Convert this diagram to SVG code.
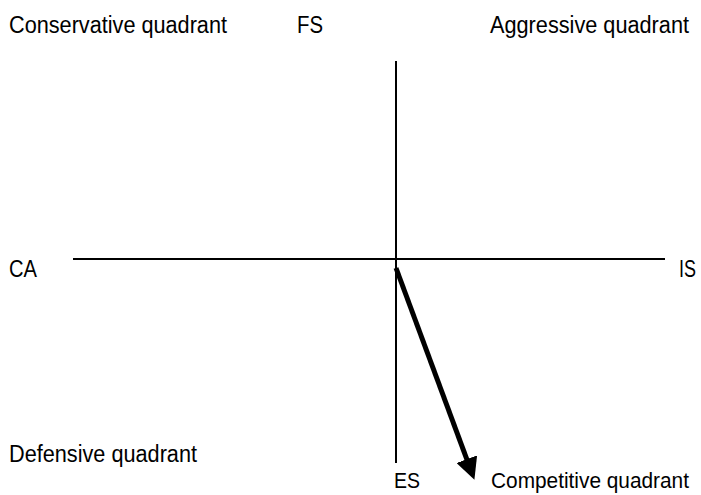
<svg xmlns="http://www.w3.org/2000/svg" width="701" height="495" viewBox="0 0 701 495">
<defs>
<style>
.lbl{font-family:"Liberation Sans",Arial,sans-serif;font-size:23px;fill:#000}
.sm{font-size:22px}
.axis{stroke:#000;stroke-width:2;fill:none}
.vec{stroke:#000;stroke-width:5;fill:none}
</style>
<marker id="head" markerUnits="userSpaceOnUse" markerWidth="22" markerHeight="22" refX="2" refY="10.5" orient="auto" viewBox="0 0 21 21">
<path d="M0,0 L21,10.5 L0,21 z" fill="#000"/>
</marker>
</defs>
<rect width="701" height="495" fill="#fff"/>
<g id="connectors">
<line class="axis" x1="396" y1="61" x2="396" y2="463"/>
<line class="axis" x1="73" y1="259" x2="665" y2="259"/>
<line class="vec" x1="396" y1="268" x2="467.5" y2="461.2" marker-end="url(#head)"/>
</g>
<g id="conservative"><text class="lbl" x="9" y="33" textLength="218" lengthAdjust="spacingAndGlyphs">Conservative quadrant</text></g>
<g id="fs"><text class="lbl" x="297" y="33" textLength="26" lengthAdjust="spacingAndGlyphs">FS</text></g>
<g id="aggressive"><text class="lbl" x="490" y="33" textLength="199" lengthAdjust="spacingAndGlyphs">Aggressive quadrant</text></g>
<g id="ca"><text class="lbl" x="9" y="277" textLength="28" lengthAdjust="spacingAndGlyphs">CA</text></g>
<g id="is"><text class="lbl" x="679" y="277" textLength="17" lengthAdjust="spacingAndGlyphs">IS</text></g>
<g id="defensive"><text class="lbl" x="9" y="462" textLength="188" lengthAdjust="spacingAndGlyphs">Defensive quadrant</text></g>
<g id="es"><text class="lbl sm" x="394" y="488" textLength="26" lengthAdjust="spacingAndGlyphs">ES</text></g>
<g id="competitive"><text class="lbl sm" x="491" y="488" textLength="198" lengthAdjust="spacingAndGlyphs">Competitive quadrant</text></g>
</svg>
